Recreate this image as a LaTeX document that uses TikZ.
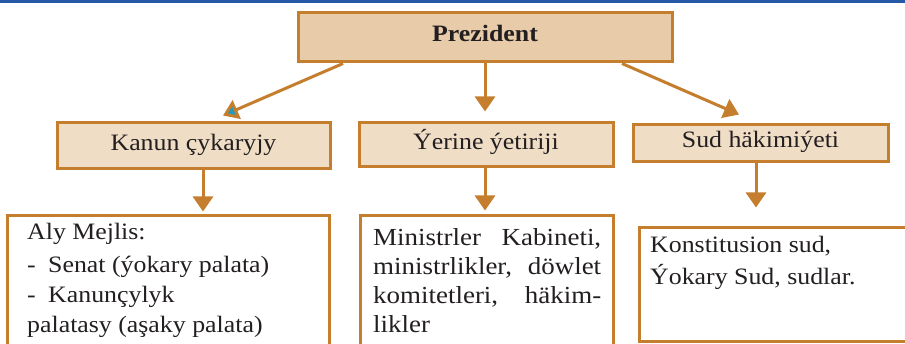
\documentclass[tikz,border=0pt]{standalone}
\usepackage{fontspec}
\setmainfont{Liberation Serif}[FakeStretch=1.1]
\usetikzlibrary{arrows.meta,calc}
\definecolor{bord}{HTML}{C47E2E}
\definecolor{prezfill}{HTML}{E8CBA9}
\definecolor{subfill}{HTML}{F0DDC6}
\definecolor{topblue}{HTML}{2559A7}
\definecolor{txt}{HTML}{231F20}
\definecolor{tipblue}{HTML}{1E9BC0}
\newcommand\diagfont{\fontsize{23.5}{28}\selectfont}
\newcommand\minfont{\fontsize{24.5}{28}\selectfont}
\tikzset{
  headbox/.style={draw=bord, line width=3pt, fill=subfill, text=txt, font=\diagfont,
    inner sep=0pt, text height=15pt, text depth=6pt},
  listbox/.style={draw=bord, line width=3pt, fill=white, inner sep=0pt},
  line/.style={text=txt, font=\diagfont, inner sep=0pt, anchor=base west},
  arr/.style={draw=bord, line width=3pt, -{Triangle[length=15pt,width=20pt]}},
}
\begin{document}
\begin{tikzpicture}[x=1pt,y=-1pt]
\useasboundingbox (0,0) rectangle (905,344);
\clip (0,0) rectangle (905,344);
\fill[topblue] (0,0) rectangle (905,3);

\node[headbox, fill=prezfill, font=\diagfont\bfseries, minimum width=374pt, minimum height=49pt] (prez) at (485,37.5) {Prezident};
\node[headbox, minimum width=273pt, minimum height=46pt] (kanun) at (193.5,146) {Kanun çykaryjy};
\node[headbox, minimum width=254pt, minimum height=44pt] (yerine) at (486,145) {Ýerine ýetiriji};
\node[headbox, minimum width=255pt, minimum height=37pt] (sud) at (760.5,143.5) {Sud häkimiýeti};

\node[listbox, minimum width=322pt, minimum height=144pt] (aly) at (168,288) {};
\node[listbox, minimum width=253pt, minimum height=144pt] (min) at (486.5,288) {};
\node[listbox, minimum width=276pt, minimum height=114pt] (kon) at (777,285) {};

\draw[line width=3pt, draw=bord, -{Triangle[length=15pt,width=20pt,fill=tipblue]}]
  ([xshift=-142pt]prez.south) -- ([xshift=29.5pt,yshift=6pt]kanun.north);
\draw[arr] (prez.south) -- ($(prez.south |- yerine.north)+(0,-10)$);
\draw[arr] ([xshift=137pt]prez.south) -- ([xshift=-21.5pt,yshift=9pt]sud.north);

\draw[arr] ([xshift=9.5pt]kanun.south) -- ($(kanun.south |- aly.north)+(9.5,-3)$);
\draw[arr] ([xshift=-1pt]yerine.south) -- ($(yerine.south |- min.north)+(-1,-4)$);
\draw[arr] ([xshift=-4.5pt]sud.south) -- ($(sud.south |- kon.north)+(-4.5,-19)$);

\node[line] (a1) at (27,240) {Aly Mejlis:};
\node[line] (a2) at (27,273) {\makebox[21pt][l]{-}Senat (ýokary palata)};
\node[line] (a3) at (27,303) {\makebox[21pt][l]{-}Kanunçylyk};
\node[line] (a4) at (27,333) {palatasy (aşaky palata)};

\node[line, font=\minfont] (m1) at (373,246) {\makebox[228pt][s]{Ministrler Kabineti,}};
\node[line, font=\minfont] (m2) at (373,275) {\makebox[228pt][s]{ministrlikler, döwlet}};
\node[line, font=\minfont] (m3) at (373,304) {\makebox[228pt][s]{komitetleri, häkim-}};
\node[line, font=\minfont] (m4) at (373,333) {likler};

\node[line] (k1) at (650,253) {Konstitusion sud,};
\node[line] (k2) at (650,285) {Ýokary Sud, sudlar.};
\end{tikzpicture}
\end{document}
